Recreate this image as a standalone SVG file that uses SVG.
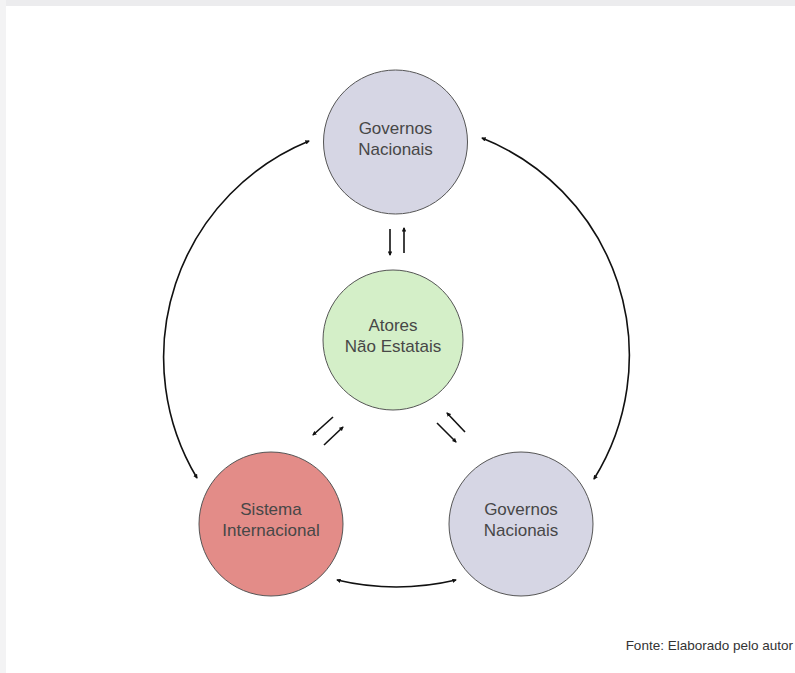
<svg xmlns="http://www.w3.org/2000/svg" width="795" height="673" viewBox="0 0 795 673">
  <style>
    .label { font-family: "Liberation Sans", Arial, sans-serif; font-size: 17px; fill: #474747; text-anchor: middle; }
    .node { stroke: #555; stroke-width: 1; }
    .conn { fill: none; stroke: #111; stroke-width: 1.6; }
    .foot { font-family: "Liberation Sans", Arial, sans-serif; font-size: 13.5px; fill: #333; text-anchor: end; }
  </style>
  <defs>
    <marker id="head" viewBox="0 0 10 10" refX="8" refY="5" markerWidth="2.8" markerHeight="2.8" orient="auto-start-reverse" markerUnits="strokeWidth">
      <path d="M0,0 L10,5 L0,10 z" fill="#111"/>
    </marker>
  </defs>

  <rect x="0" y="0" width="795" height="673" fill="#fff"/>
  <!-- page frame edge -->
  <rect x="0" y="0" width="795" height="6" fill="#ececee"/>
  <rect x="0" y="0" width="6" height="673" fill="#f3f3f4"/>

  <g id="connectors">
    <path class="conn" d="M197,478 A234,234 0 0 1 309,141" marker-start="url(#head)" marker-end="url(#head)"/>
    <path class="conn" d="M482,138 A234,234 0 0 1 594,479" marker-start="url(#head)" marker-end="url(#head)"/>
    <path class="conn" d="M337,580 Q396,594 456,580" marker-start="url(#head)" marker-end="url(#head)"/>
    <line class="conn" x1="390" y1="229" x2="390" y2="255" marker-end="url(#head)"/>
    <line class="conn" x1="404" y1="253" x2="404" y2="228" marker-end="url(#head)"/>
    <line class="conn" x1="333" y1="417" x2="313" y2="435" marker-end="url(#head)"/>
    <line class="conn" x1="324" y1="445" x2="343" y2="427" marker-end="url(#head)"/>
    <line class="conn" x1="465" y1="432" x2="447" y2="413" marker-end="url(#head)"/>
    <line class="conn" x1="437" y1="423" x2="456" y2="442" marker-end="url(#head)"/>
  </g>

  <g id="gov-top">
    <circle class="node" cx="395.5" cy="142" r="72" fill="#d6d6e4"/>
    <text class="label" x="395.5" y="134">Governos</text>
    <text class="label" x="395.5" y="155">Nacionais</text>
  </g>

  <g id="atores">
    <circle class="node" cx="393" cy="340" r="70" fill="#d4efc8"/>
    <text class="label" x="393" y="331">Atores</text>
    <text class="label" x="393" y="352">Não Estatais</text>
  </g>

  <g id="sistema">
    <circle class="node" cx="271" cy="524" r="72" fill="#e38c88"/>
    <text class="label" x="271" y="515">Sistema</text>
    <text class="label" x="271" y="536">Internacional</text>
  </g>

  <g id="gov-bottom">
    <circle class="node" cx="521" cy="524" r="72" fill="#d6d6e4"/>
    <text class="label" x="521" y="515">Governos</text>
    <text class="label" x="521" y="536">Nacionais</text>
  </g>

  <text class="foot" x="793" y="650">Fonte: Elaborado pelo autor</text>
</svg>
